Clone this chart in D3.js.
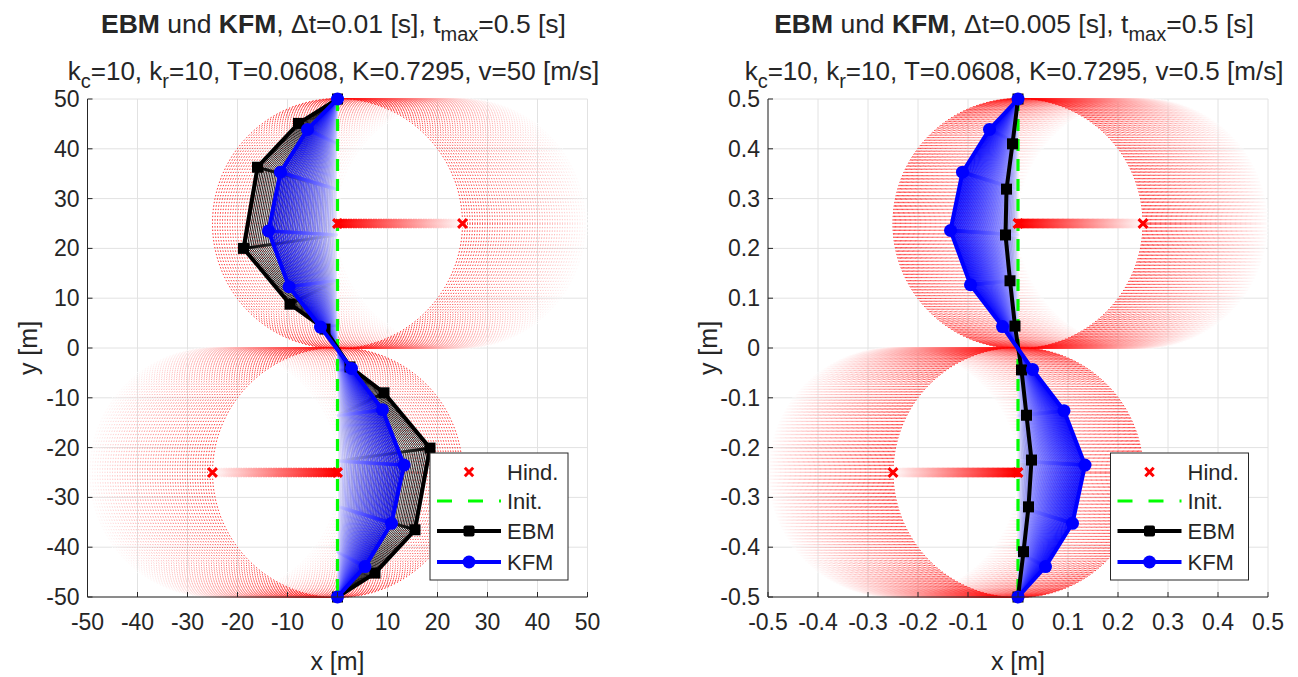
<!DOCTYPE html>
<html>
<head>
<meta charset="utf-8">
<script src="https://cdn.jsdelivr.net/npm/d3@7"></script>
<style>
body { margin: 0; background: #fff; }
text { font-family: "Liberation Sans", Arial, sans-serif; fill: #262626; }
</style>
</head>
<body>
<div id="container"></div>
<script>
const width = 1298;
const height = 677;

// ---- left panel: dt=0.01, v=50 ----
const ticks1 = [-50, -40, -30, -20, -10, 0, 10, 20, 30, 40, 50];
const tickLabels1 = ["-50", "-40", "-30", "-20", "-10", "0", "10", "20", "30", "40", "50"];
const initY1 = [50, 40.9, 31.8, 22.7, 13.6, 4.5, -4.5, -13.6, -22.7, -31.8, -40.9, -50];
const ebmX1 = [0, -7.8, -16.0, -18.8, -9.5, -2.5, 2.5, 9.3, 18.5, 15.5, 7.5, 0];
const ebmY1 = [50, 45.1, 36.3, 20.0, 8.8, 3.8, -3.8, -9.0, -20.1, -36.5, -45.2, -50];
const kfmX1 = [0, -6.0, -11.4, -13.8, -9.7, -3.4, 2.8, 9.0, 13.3, 10.8, 5.5, 0];
const kfmY1 = [50, 43.9, 35.3, 23.5, 12.3, 4.2, -4.1, -12.4, -23.5, -35.2, -43.9, -50];
const hindFrom1 = [[25, 25], [-25, -25]];
const hindTo1 = [[0, 25], [0, -25]];
const hindR1 = 25;
const steps1 = 50; // tmax / dt

// ---- right panel: dt=0.005, v=0.5 ----
const ticks2 = [-0.5, -0.4, -0.3, -0.2, -0.1, 0, 0.1, 0.2, 0.3, 0.4, 0.5];
const tickLabels2 = ["-0.5", "-0.4", "-0.3", "-0.2", "-0.1", "0", "0.1", "0.2", "0.3", "0.4", "0.5"];
const initY2 = [0.5, 0.409, 0.318, 0.227, 0.136, 0.045, -0.045, -0.136, -0.227, -0.318, -0.409, -0.5];
const ebmX2 = [0, -0.011, -0.023, -0.025, -0.016, -0.006, 0.007, 0.017, 0.027, 0.021, 0.011, 0];
const ebmY2 = [0.5, 0.41, 0.319, 0.227, 0.135, 0.044, -0.044, -0.135, -0.225, -0.319, -0.409, -0.5];
const kfmX2 = [0, -0.057, -0.111, -0.135, -0.095, -0.031, 0.029, 0.092, 0.134, 0.109, 0.055, 0];
const kfmY2 = [0.5, 0.439, 0.353, 0.236, 0.127, 0.043, -0.043, -0.126, -0.235, -0.352, -0.439, -0.5];
const hindFrom2 = [[0.25, 0.25], [-0.25, -0.25]];
const hindTo2 = [[0, 0.25], [0, -0.25]];
const hindR2 = 0.25;
const steps2 = 100;

const legendNames = ["Hind.", "Init.", "EBM", "KFM"];

const svg = d3.select("#container").append("svg")
    .attr("width", width)
    .attr("height", height);

const axTop = 99, axBottom = 597;

function xMark(sel, cx, cy, s, color, w) {
    sel.append("path")
        .attr("d", `M${cx - s},${cy - s}L${cx + s},${cy + s}M${cx - s},${cy + s}L${cx + s},${cy - s}`)
        .attr("stroke", color)
        .attr("stroke-width", w)
        .attr("fill", "none");
}

function drawPanel(p) {
    let x = d3.scaleLinear().domain([p.ticks[0], p.ticks[p.ticks.length - 1]]).range([p.left, p.left + 500]);
    let y = d3.scaleLinear().domain([p.ticks[0], p.ticks[p.ticks.length - 1]]).range([axBottom, axTop]);
    let g = svg.append("g");

    // grid
    g.append("g").selectAll("line").data(p.ticks).join("line")
        .attr("x1", d => x(d)).attr("x2", d => x(d))
        .attr("y1", axTop).attr("y2", axBottom)
        .attr("stroke", "#e2e2e2").attr("stroke-width", 1);
    g.append("g").selectAll("line").data(p.ticks).join("line")
        .attr("y1", d => y(d)).attr("y2", d => y(d))
        .attr("x1", p.left).attr("x2", p.left + 500)
        .attr("stroke", "#e2e2e2").attr("stroke-width", 1);

    let plot = g.append("g");
    let n = p.steps;
    let redRamp = d3.interpolateRgb("#ffffff", "#ff0000");

    // hindrance influence circles, one per time step
    p.hindFrom.forEach((h0, j) => {
        let h1 = p.hindTo[j];
        let idx = d3.range(n + 1);
        plot.append("g").selectAll("circle").data(idx).join("circle")
            .attr("cx", i => x(h0[0] + (h1[0] - h0[0]) * i / n))
            .attr("cy", i => y(h0[1] + (h1[1] - h0[1]) * i / n))
            .attr("r", x(p.r) - x(0))
            .attr("fill", "none")
            .attr("stroke", i => redRamp(Math.pow(i / n, 0.85)))
            .attr("stroke-width", 1)
            .attr("stroke-dasharray", "1.3 2.2");
    });

    let line = d3.line().x(d => x(d[0])).y(d => y(d[1]));

    // evolution of the paths (white -> final colour)
    function fan(px, py, color, marker) {
        let ramp = d3.interpolateRgb("#ffffff", color);
        let fg = plot.append("g");
        for (let i = 0; i <= n; i++) {
            let s = i / n;
            let c = ramp(Math.pow(s, 0.55));
            let pts = p.initY.map((iy, k) => [s * px[k], iy + s * (py[k] - iy)]);
            fg.append("path")
                .attr("d", line(pts))
                .attr("fill", "none")
                .attr("stroke", c)
                .attr("stroke-width", 0.9);
            fg.append("g").selectAll("circle").data(pts.slice(1, -1)).join("circle")
                .attr("cx", d => x(d[0])).attr("cy", d => y(d[1]))
                .attr("r", marker)
                .attr("fill", c);
        }
    }
    fan(p.ebmX, p.ebmY, "#000000", 1.6);
    fan(p.kfmX, p.kfmY, "#0000ff", 1.8);

    // initial path
    plot.append("line")
        .attr("x1", x(0)).attr("x2", x(0))
        .attr("y1", y(p.initY[0])).attr("y2", y(p.initY[p.initY.length - 1]))
        .attr("stroke", "#00ff00").attr("stroke-width", 3.2)
        .attr("stroke-dasharray", "12 8");

    // hindrance trail
    p.hindFrom.forEach((h0, j) => {
        let h1 = p.hindTo[j];
        let tg = plot.append("g");
        for (let i = 0; i <= n; i++) {
            let cx = x(h0[0] + (h1[0] - h0[0]) * i / n);
            let cy = y(h0[1] + (h1[1] - h0[1]) * i / n);
            xMark(tg, cx, cy, 4.2, redRamp(i / n), 2.4);
        }
        xMark(tg, x(h0[0]), y(h0[1]), 4.4, "#ff0000", 3);
        xMark(tg, x(h1[0]), y(h1[1]), 4.4, "#ff0000", 3);
    });

    // final paths
    let ebm = p.ebmX.map((v, k) => [v, p.ebmY[k]]);
    let kfm = p.kfmX.map((v, k) => [v, p.kfmY[k]]);
    plot.append("path").attr("d", line(ebm))
        .attr("fill", "none").attr("stroke", "#000").attr("stroke-width", 4).attr("stroke-linejoin", "round");
    plot.append("g").selectAll("rect").data(ebm).join("rect")
        .attr("x", d => x(d[0]) - 5.5).attr("y", d => y(d[1]) - 5.5)
        .attr("width", 11).attr("height", 11).attr("fill", "#000");
    plot.append("path").attr("d", line(kfm))
        .attr("fill", "none").attr("stroke", "#0000ff").attr("stroke-width", 4).attr("stroke-linejoin", "round");
    plot.append("g").selectAll("circle").data(kfm).join("circle")
        .attr("cx", d => x(d[0])).attr("cy", d => y(d[1]))
        .attr("r", 6.5).attr("fill", "#0000ff");

    // axes (box off, ticks inside)
    let ax = g.append("g");
    ax.append("line").attr("x1", p.left).attr("x2", p.left + 500).attr("y1", axBottom).attr("y2", axBottom)
        .attr("stroke", "#262626");
    ax.append("line").attr("x1", p.left).attr("x2", p.left).attr("y1", axTop).attr("y2", axBottom)
        .attr("stroke", "#262626");
    ax.append("g").selectAll("line").data(p.ticks).join("line")
        .attr("x1", d => x(d)).attr("x2", d => x(d)).attr("y1", axBottom).attr("y2", axBottom - 5)
        .attr("stroke", "#262626");
    ax.append("g").selectAll("line").data(p.ticks).join("line")
        .attr("y1", d => y(d)).attr("y2", d => y(d)).attr("x1", p.left).attr("x2", p.left + 5)
        .attr("stroke", "#262626");
    ax.append("g").selectAll("text").data(p.ticks).join("text")
        .attr("x", d => x(d)).attr("y", 630)
        .attr("text-anchor", "middle").attr("font-size", 23)
        .text((d, i) => p.tickLabels[i]);
    ax.append("g").selectAll("text").data(p.ticks).join("text")
        .attr("x", p.left - 8).attr("y", d => y(d) + 8)
        .attr("text-anchor", "end").attr("font-size", 23)
        .text((d, i) => p.tickLabels[i]);
    ax.append("text").attr("x", p.left + 250).attr("y", 670)
        .attr("text-anchor", "middle").attr("font-size", 25).text("x [m]");
    ax.append("text").attr("transform", `translate(${p.left - 51},348) rotate(-90)`)
        .attr("text-anchor", "middle").attr("font-size", 25).text("y [m]");

    // title
    let tx = p.left + 246;
    let t1 = g.append("text").attr("x", tx).attr("y", 33)
        .attr("text-anchor", "middle").attr("font-size", 26.5);
    t1.append("tspan").attr("font-weight", "bold").text("EBM");
    t1.append("tspan").text(" und ");
    t1.append("tspan").attr("font-weight", "bold").text("KFM");
    t1.append("tspan").text(", \u0394t=" + p.dt + " [s], t");
    t1.append("tspan").attr("font-size", 20).attr("dy", 8).text("max");
    t1.append("tspan").attr("dy", -8).text("=0.5 [s]");

    let t2 = g.append("text").attr("x", tx).attr("y", 80)
        .attr("text-anchor", "middle").attr("font-size", 26);
    t2.append("tspan").text("k");
    t2.append("tspan").attr("font-size", 20).attr("dy", 8).text("c");
    t2.append("tspan").attr("dy", -8).text("=10, k");
    t2.append("tspan").attr("font-size", 20).attr("dy", 8).text("r");
    t2.append("tspan").attr("dy", -8).text("=10, T=0.0608, K=0.7295, v=" + p.v + " [m/s]");

    // legend
    let lx = p.left + 342.5, ly = 453;
    let lg = g.append("g");
    lg.append("rect").attr("x", lx).attr("y", ly).attr("width", 138).attr("height", 127)
        .attr("fill", "#fff").attr("stroke", "#262626").attr("stroke-width", 1);
    let rows = [ly + 19, ly + 48, ly + 78, ly + 109];
    xMark(lg, lx + 39, rows[0], 4.2, "#ff0000", 3);
    lg.append("line").attr("x1", lx + 7).attr("x2", lx + 71).attr("y1", rows[1]).attr("y2", rows[1])
        .attr("stroke", "#00ff00").attr("stroke-width", 3.2).attr("stroke-dasharray", "15 16");
    lg.append("line").attr("x1", lx + 7).attr("x2", lx + 71).attr("y1", rows[2]).attr("y2", rows[2])
        .attr("stroke", "#000").attr("stroke-width", 4);
    lg.append("rect").attr("x", lx + 33.5).attr("y", rows[2] - 5.5).attr("width", 11).attr("height", 11)
        .attr("rx", 2).attr("fill", "#000");
    lg.append("line").attr("x1", lx + 7).attr("x2", lx + 71).attr("y1", rows[3]).attr("y2", rows[3])
        .attr("stroke", "#0000ff").attr("stroke-width", 4);
    lg.append("circle").attr("cx", lx + 39).attr("cy", rows[3]).attr("r", 6.5).attr("fill", "#0000ff");
    lg.append("g").selectAll("text").data(legendNames).join("text")
        .attr("x", lx + 77).attr("y", (d, i) => rows[i] + 8)
        .attr("font-size", 22).text(d => d);
}

drawPanel({
    left: 87.5, ticks: ticks1, tickLabels: tickLabels1, initY: initY1,
    ebmX: ebmX1, ebmY: ebmY1, kfmX: kfmX1, kfmY: kfmY1,
    hindFrom: hindFrom1, hindTo: hindTo1, r: hindR1, steps: steps1,
    dt: "0.01", v: "50"
});
drawPanel({
    left: 768, ticks: ticks2, tickLabels: tickLabels2, initY: initY2,
    ebmX: ebmX2, ebmY: ebmY2, kfmX: kfmX2, kfmY: kfmY2,
    hindFrom: hindFrom2, hindTo: hindTo2, r: hindR2, steps: steps2,
    dt: "0.005", v: "0.5"
});
</script>
</body>
</html>
